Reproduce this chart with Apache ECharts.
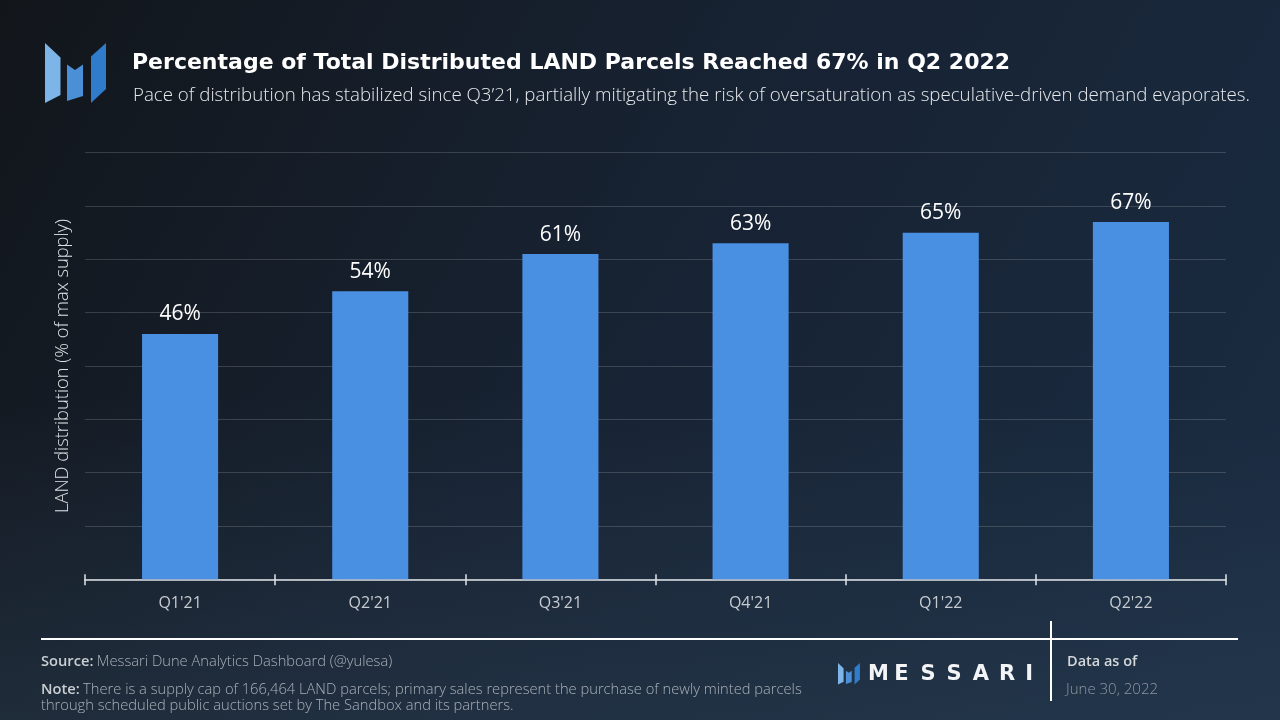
<!DOCTYPE html>
<html><head><meta charset="utf-8">
<script src="https://cdn.jsdelivr.net/npm/echarts@6/dist/echarts.min.js"></script>
<style>html,body{margin:0;padding:0;background:#151b22;}#c{width:1280px;height:720px;}</style>
</head><body><div id="c"></div>
<script>
const categories = ["Q1'21", "Q2'21", "Q3'21", "Q4'21", "Q1'22", "Q2'22"];
const distribution = [46, 54, 61, 63, 65, 67];
const yMin = 0, yMax = 80, yStep = 10;
const titleText = 'Percentage of Total Distributed LAND Parcels Reached 67% in Q2 2022';
const subtitleText = 'Pace of distribution has stabilized since Q3\u201921, partially mitigating the risk of oversaturation as speculative-driven demand evaporates.';
const yAxisName = 'LAND distribution (% of max supply)';
const sourceText = 'Messari Dune Analytics Dashboard (@yulesa)';
const noteLine1 = 'There is a supply cap of 166,464 LAND parcels; primary sales represent the purchase of newly minted parcels';
const noteLine2 = 'through scheduled public auctions set by The Sandbox and its partners.';
const brand = 'MESSARI';

const chart = echarts.init(document.getElementById('c'), null, {renderer: 'canvas'});

function logo(ox, oy, s) {
  const p = pts => pts.map(q => [ox + q[0] * s, oy + q[1] * s]);
  return [
    {type: 'polygon', shape: {points: p([[0,0],[15.5,14.5],[15.5,52],[0,60]])}, style: {fill: '#7db5e8'}},
    {type: 'polygon', shape: {points: p([[22,21.5],[30,27],[38,21.5],[38,53],[22,58]])}, style: {fill: '#4b90d6'}},
    {type: 'polygon', shape: {points: p([[46,13.5],[61,0],[61,46],[46,60]])}, style: {fill: '#2f7cca'}}
  ];
}

const graphics = [
  {type: 'rect', z: -10, silent: true, shape: {x: 0, y: 0, width: 1280, height: 720},
   style: {fill: {type: 'linear', x: 0, y: 0, x2: 0, y2: 1, colorStops: [
     {offset: 0, color: 'rgba(50,72,92,0)'}, {offset: 0.55, color: 'rgba(50,72,92,0)'}, {offset: 1, color: 'rgba(50,72,92,0.35)'}]}}}
];
logo(45, 43, 1).forEach(g => graphics.push(g));
logo(838, 663, 0.36).forEach(g => graphics.push(g));
graphics.push(
  {type: 'text', left: 132, top: 52, style: {text: titleText, fill: '#ffffff', font: 'bold 22px "DejaVu Sans"'}},
  {type: 'text', left: 133, top: 86, style: {text: subtitleText, fill: '#e6e9ec', font: '300 18.7px "Open Sans"'}},
  {type: 'line', shape: {x1: 41, y1: 639, x2: 1238, y2: 639}, style: {stroke: '#ffffff', lineWidth: 2}},
  {type: 'line', shape: {x1: 1051, y1: 621, x2: 1051, y2: 701}, style: {stroke: '#ffffff', lineWidth: 2}},
  {type: 'text', left: 41, top: 654, style: {
    text: '{b|Source:} {l|' + sourceText + '}',
    rich: {b: {fill: '#c9ced3', font: '600 14.7px "Open Sans"'}, l: {fill: '#a9b1b9', font: '300 14.7px "Open Sans"'}}}},
  {type: 'text', left: 41, top: 682, style: {
    text: '{b|Note:} {l|' + noteLine1 + '}\n{l|' + noteLine2 + '}',
    rich: {b: {fill: '#c9ced3', font: '600 14.7px "Open Sans"', lineHeight: 16}, l: {fill: '#a9b1b9', font: '300 14.7px "Open Sans"', lineHeight: 16}}}},
  {type: 'text', left: 1067, top: 654, style: {text: 'Data as of', fill: '#d3d7db', font: '600 14.5px "Open Sans"'}},
  {type: 'text', left: 1066, top: 682, style: {text: 'June 30, 2022', fill: '#8e97a1', font: '300 15px "Open Sans"'}}
);
brand.split('').forEach((ch, i) => {
  graphics.push({type: 'text', left: 868 + i * 26.2, top: 664, style: {text: ch, fill: '#f2f4f6', font: 'bold 21px "DejaVu Sans"'}});
});

chart.setOption({
  backgroundColor: {type: 'linear', x: 0, y: 0, x2: 1, y2: 1, colorStops: [
    {offset: 0, color: '#12161b'}, {offset: 0.45, color: '#172232'}, {offset: 1, color: '#1a2c42'}]},
  animation: false,
  grid: {left: 85, right: 54, top: 152.7, bottom: 140.7},
  xAxis: [{
    type: 'category', data: categories,
    axisLine: {lineStyle: {color: '#dfe3e7', width: 1.5}},
    axisTick: {show: true, length: 6, lineStyle: {color: '#dfe3e7', width: 1.5}},
    axisLabel: {color: '#c6cbd1', fontSize: 16, fontFamily: 'Open Sans', margin: 16}
  }, {
    type: 'category', data: categories, position: 'bottom',
    axisLine: {show: false},
    axisTick: {show: true, inside: true, length: 5, lineStyle: {color: '#dfe3e7', width: 1.5}},
    axisLabel: {show: false}
  }],
  yAxis: {
    type: 'value', min: yMin, max: yMax, interval: yStep,
    name: yAxisName, nameLocation: 'middle', nameGap: 13, nameRotate: 90,
    nameTextStyle: {color: '#dde1e5', fontSize: 18.3, fontFamily: 'Open Sans', fontWeight: 300},
    axisLabel: {show: false}, axisLine: {show: false}, axisTick: {show: false},
    splitLine: {lineStyle: {color: 'rgba(255,255,255,0.16)', width: 1}}
  },
  series: [{
    type: 'bar', data: distribution, barWidth: '40%', xAxisIndex: 0,
    itemStyle: {color: '#4a90e2'},
    label: {show: true, position: 'top', distance: 9, formatter: '{c}%', color: '#ffffff', fontSize: 21, fontFamily: 'Open Sans'}
  }],
  graphic: graphics
});
</script></body></html>
